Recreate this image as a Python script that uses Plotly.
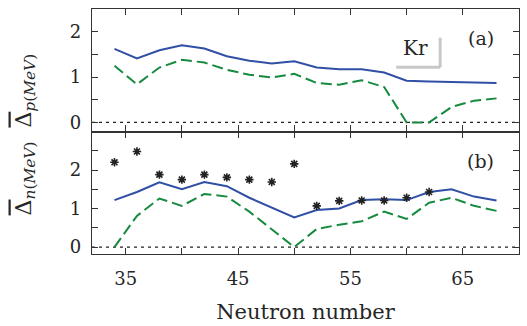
import plotly.graph_objects as go
from plotly.subplots import make_subplots

neutrons = [34, 36, 38, 40, 42, 44, 46, 48, 50, 52, 54, 56, 58, 60, 62, 64, 66, 68]
proton_gap_solid = [1.62, 1.41, 1.59, 1.70, 1.63, 1.46, 1.36, 1.30, 1.35, 1.21, 1.17, 1.17, 1.10, 0.92, 0.90, 0.89, 0.88, 0.87]
proton_gap_dashed = [1.25, 0.84, 1.21, 1.38, 1.32, 1.16, 1.05, 0.99, 1.07, 0.87, 0.83, 0.93, 0.78, 0.0, 0.0, 0.34, 0.48, 0.53]
neutron_gap_solid = [1.22, 1.43, 1.68, 1.50, 1.69, 1.58, 1.28, 1.03, 0.77, 0.96, 1.00, 1.22, 1.24, 1.22, 1.43, 1.50, 1.31, 1.21]
neutron_gap_dashed = [0.0, 0.81, 1.26, 1.07, 1.38, 1.31, 0.92, 0.47, 0.0, 0.47, 0.58, 0.67, 0.92, 0.73, 1.15, 1.28, 1.07, 0.94]
exp_neutrons = [34, 36, 38, 40, 42, 44, 46, 48, 50, 52, 54, 56, 58, 60, 62]
exp_neutron_gap = [2.20, 2.48, 1.88, 1.75, 1.88, 1.81, 1.75, 1.69, 2.16, 1.07, 1.20, 1.21, 1.21, 1.28, 1.43]

x_range = [32, 70]
BLUE = "#3150a5"
GREEN = "#168a3e"
FONT = "DejaVu Serif"
TXT = "#262626"

fig = make_subplots(rows=2, cols=1, shared_xaxes=True, vertical_spacing=0)

for row, solid, dashed in [(1, proton_gap_solid, proton_gap_dashed), (2, neutron_gap_solid, neutron_gap_dashed)]:
    fig.add_trace(go.Scatter(x=x_range, y=[0, 0], mode="lines",
                             line=dict(color="#222222", width=1.3, dash="3px,4px"),
                             showlegend=False, hoverinfo="skip"), row=row, col=1)
    fig.add_trace(go.Scatter(x=neutrons, y=solid, mode="lines",
                             line=dict(color=BLUE, width=2), showlegend=False), row=row, col=1)
    fig.add_trace(go.Scatter(x=neutrons, y=dashed, mode="lines",
                             line=dict(color=GREEN, width=2, dash="11px,5px"), showlegend=False), row=row, col=1)

fig.add_trace(go.Scatter(x=exp_neutrons, y=exp_neutron_gap, mode="markers",
                         marker=dict(symbol="asterisk-open", size=7, color="#222222",
                                     line=dict(color="#222222", width=1.6)),
                         showlegend=False), row=2, col=1)

axis_common = dict(showline=True, linecolor="#333333", linewidth=1.2, mirror="allticks",
                   ticks="inside", ticklen=6, tickwidth=1.3, tickcolor="#333333",
                   showgrid=False, zeroline=False,
                   tickfont=dict(family=FONT, size=18, color=TXT))

fig.update_xaxes(**axis_common, range=x_range, tick0=35, dtick=10,
                 minor=dict(dtick=5, tick0=35, ticks="inside", ticklen=6, tickwidth=1.3, tickcolor="#333333"))
fig.update_xaxes(ticklabelstandoff=8, title=dict(text="Neutron number", standoff=16,
                 font=dict(family=FONT, size=21, color=TXT)), row=2, col=1)
fig.update_yaxes(**axis_common, tick0=0, dtick=1, ticklabelstandoff=6,
                 minor=dict(dtick=0.5, tick0=0, ticks="inside", ticklen=6, tickwidth=1.3, tickcolor="#333333"))
fig.update_yaxes(range=[-0.2, 2.5], tickvals=[0, 1, 2], row=1, col=1)
fig.update_yaxes(range=[-0.18, 3.0], tickvals=[0, 1, 2], row=2, col=1)

bar = '<span style="text-decoration:overline">Δ</span>'
fig.add_annotation(xref="paper", yref="paper", x=-0.157, y=0.488, textangle=-90,
                   showarrow=False, xanchor="center", yanchor="middle",
                   text=bar + "<sub><i>n</i>(<i>MeV</i>)</sub>  " + bar + "<sub><i>p</i>(<i>MeV</i>)</sub>",
                   font=dict(family=FONT, size=22, color=TXT))
fig.add_annotation(xref="paper", yref="paper", x=0.9105, y=0.883, text="(a)", showarrow=False,
                   xanchor="center", yanchor="middle",
                   font=dict(family=FONT, size=19, color=TXT))
fig.add_annotation(xref="paper", yref="paper", x=0.909, y=0.379, text="(b)", showarrow=False,
                   xanchor="center", yanchor="middle",
                   font=dict(family=FONT, size=19, color=TXT))
fig.add_annotation(xref="paper", yref="paper", x=0.757, y=0.839, text="Kr", showarrow=False,
                   xanchor="center", yanchor="middle",
                   font=dict(family=FONT, size=20, color=TXT))
fig.add_shape(type="line", xref="paper", yref="paper", x0=0.8154, x1=0.8154, y0=0.883, y1=0.762,
              line=dict(color="#c8c8c8", width=3))
fig.add_shape(type="line", xref="paper", yref="paper", x0=0.7126, x1=0.8154, y0=0.762, y1=0.762,
              line=dict(color="#c8c8c8", width=3))

fig.update_layout(width=527, height=326, margin=dict(l=92, r=7, t=9, b=69),
                  plot_bgcolor="white", paper_bgcolor="white")

fig.write_html("out.html")
